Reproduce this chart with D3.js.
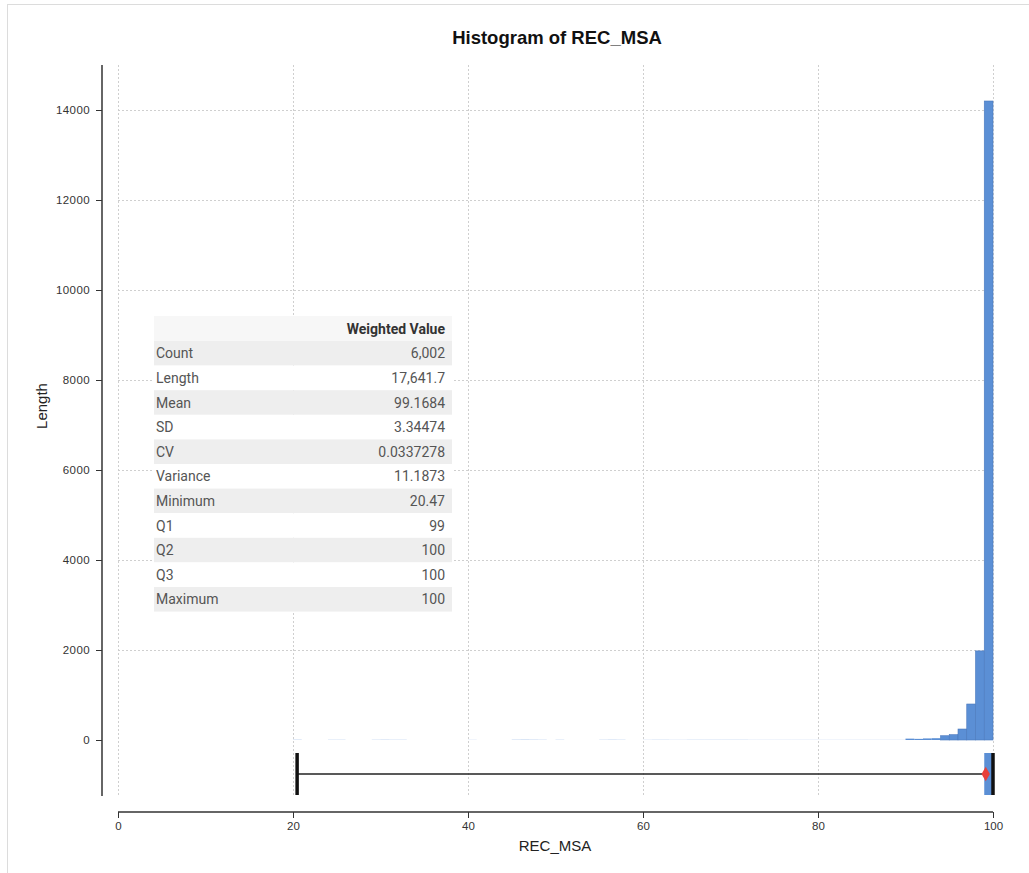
<!DOCTYPE html>
<html><head><meta charset="utf-8">
<script src="https://cdn.jsdelivr.net/npm/d3@7"></script>
<style>body{margin:0;background:#fff}svg{display:block}</style>
</head><body>
<svg id="c" width="1029" height="873"></svg>
<script>
// ---- data ----
const binStart = 20;           // first bin lower edge, bins of width 1
const binCounts = [
  4,0,0,0,3,3,0,0,0,3, // 20-29
  4,3,3,0,0,0,0,0,0,0, // 30-39
  2,0,0,0,0,4,5,4,3,0, // 40-49
  3,0,0,0,0,3,4,3,0,0, // 50-59
  2,3,3,2,2,3,3,3,3,3, // 60-69
  3,3,2,2,2,2,2,2,2,2, // 70-79
  2,2,2,2,2,2,2,2,2,2, // 80-89
  30,25,35,40,95,118,244,800,1980,14200 // 90-99
];
const xTicks = [0,20,40,60,80,100];
const yTicks = [0,2000,4000,6000,8000,10000,12000,14000];
const statLabels = ["Count","Length","Mean","SD","CV","Variance","Minimum","Q1","Q2","Q3","Maximum"];
const statValues = ["6,002","17,641.7","99.1684","3.34474","0.0337278","11.1873","20.47","99","100","100","100"];
const boxStats = {min:20.47, q1:99, median:100, q3:100, max:100, mean:99.1684};

const svg = d3.select("#c");
const x = d3.scaleLinear().domain([0,100]).range([118,993]);
const y = d3.scaleLinear().domain([-1250,15000]).range([796.25,65]);
const barColor = "#5b8fd5";
const sans = "Liberation Sans, Arial, sans-serif";

// frame
svg.append("rect").attr("x",7.5).attr("y",4.5).attr("width",1200).attr("height",1000)
  .attr("fill","none").attr("stroke","#dcdcdc");

// grid
const grid = svg.append("g").attr("stroke","#cfcfcf").attr("stroke-dasharray","2,2").attr("stroke-width",1);
xTicks.forEach(t=>grid.append("line").attr("x1",Math.round(x(t))+0.5).attr("x2",Math.round(x(t))+0.5).attr("y1",65).attr("y2",796));
yTicks.filter(t=>t>0).forEach(t=>grid.append("line").attr("x1",118).attr("x2",993).attr("y1",Math.round(y(t))+0.5).attr("y2",Math.round(y(t))+0.5));

// bars
const bins = binCounts.map((c,i)=>({x0:binStart+i,x1:binStart+i+1,c}));
svg.append("g").selectAll("rect").data(bins.filter(d=>d.c>0)).join("rect")
  .attr("x",d=>x(d.x0)).attr("width",d=>x(d.x1)-x(d.x0))
  .attr("y",d=>y(d.c)).attr("height",d=>y(0)-y(d.c))
  .attr("fill",barColor)
  .attr("stroke",d=>d.c>50?"#4a78bd":"none").attr("stroke-width",0.6);

// boxplot
const by = 774, bh = 42;
svg.append("line").attr("x1",x(boxStats.min)).attr("x2",x(boxStats.max)).attr("y1",by).attr("y2",by)
  .attr("stroke","#222").attr("stroke-width",1.5);
svg.append("rect").attr("x",x(boxStats.q1)).attr("width",x(boxStats.q3)-x(boxStats.q1))
  .attr("y",by-bh/2).attr("height",bh).attr("fill",barColor);
svg.append("line").attr("x1",x(boxStats.min)).attr("x2",x(boxStats.min)).attr("y1",by-bh/2).attr("y2",by+bh/2)
  .attr("stroke","#111").attr("stroke-width",3.5);
svg.append("line").attr("x1",x(boxStats.median)).attr("x2",x(boxStats.median)).attr("y1",by-bh/2).attr("y2",by+bh/2)
  .attr("stroke","#111").attr("stroke-width",3.5);
svg.append("path").attr("d",d3.symbol(d3.symbolDiamond,60)())
  .attr("transform",`translate(${x(boxStats.mean)},${by})`).attr("fill","#e8403a");

// axes
const yAxis = svg.append("g").attr("transform","translate(102,0)")
  .call(d3.axisLeft(y).tickValues(yTicks).tickFormat(d3.format("d")).tickSize(6).tickSizeOuter(0));
yAxis.select(".domain").attr("d","M0,65V796").attr("stroke","#333").attr("stroke-width",1.5);
yAxis.selectAll(".tick line").attr("stroke","#333");
yAxis.selectAll("text").attr("font-family",sans).attr("font-size",11.5).attr("letter-spacing",0.4).attr("fill","#333").attr("x",-12);

const xAxis = svg.append("g").attr("transform","translate(0,812)")
  .call(d3.axisBottom(x).tickValues(xTicks).tickSize(6).tickSizeOuter(0));
xAxis.select(".domain").attr("d","M118,0H993").attr("stroke","#333").attr("stroke-width",1.5);
xAxis.selectAll(".tick line").attr("stroke","#333");
xAxis.selectAll("text").attr("font-family",sans).attr("font-size",11.5).attr("fill","#333").attr("y",10);

// labels
svg.append("text").attr("x",557).attr("y",44).attr("text-anchor","middle")
  .attr("font-family",sans).attr("font-weight","bold").attr("font-size",18.5)
  .attr("fill","#111").text("Histogram of REC_MSA");
svg.append("text").attr("x",555).attr("y",851).attr("text-anchor","middle")
  .attr("font-family",sans).attr("font-size",15).attr("fill","#222").text("REC_MSA");
svg.append("text").attr("transform","translate(47,406) rotate(-90)").attr("text-anchor","middle")
  .attr("font-family",sans).attr("font-size",15).attr("fill","#222").text("Length");

// stats table
const tX = 154, tW = 298, tY = 316, hH = 25, rH = 24.6;
const tbl = svg.append("g").attr("font-family","Roboto, sans-serif").attr("font-size",14);
tbl.append("rect").attr("x",tX).attr("y",tY).attr("width",tW).attr("height",hH).attr("fill","#f7f7f7");
tbl.append("text").attr("x",tX+tW-7).attr("y",tY+hH/2+5).attr("text-anchor","end")
  .attr("font-weight","bold").attr("fill","#333").text("Weighted Value");
statLabels.forEach((lab,i)=>{
  const ry = tY+hH+i*rH;
  tbl.append("rect").attr("x",tX).attr("y",ry).attr("width",tW).attr("height",rH)
    .attr("fill", i%2===0 ? "#eeeeee" : "#ffffff");
  tbl.append("text").attr("x",tX+2).attr("y",ry+rH/2+5).attr("fill","#555").text(lab);
  tbl.append("text").attr("x",tX+tW-7).attr("y",ry+rH/2+5).attr("text-anchor","end").attr("fill","#555").text(statValues[i]);
});
</script>
</body></html>
